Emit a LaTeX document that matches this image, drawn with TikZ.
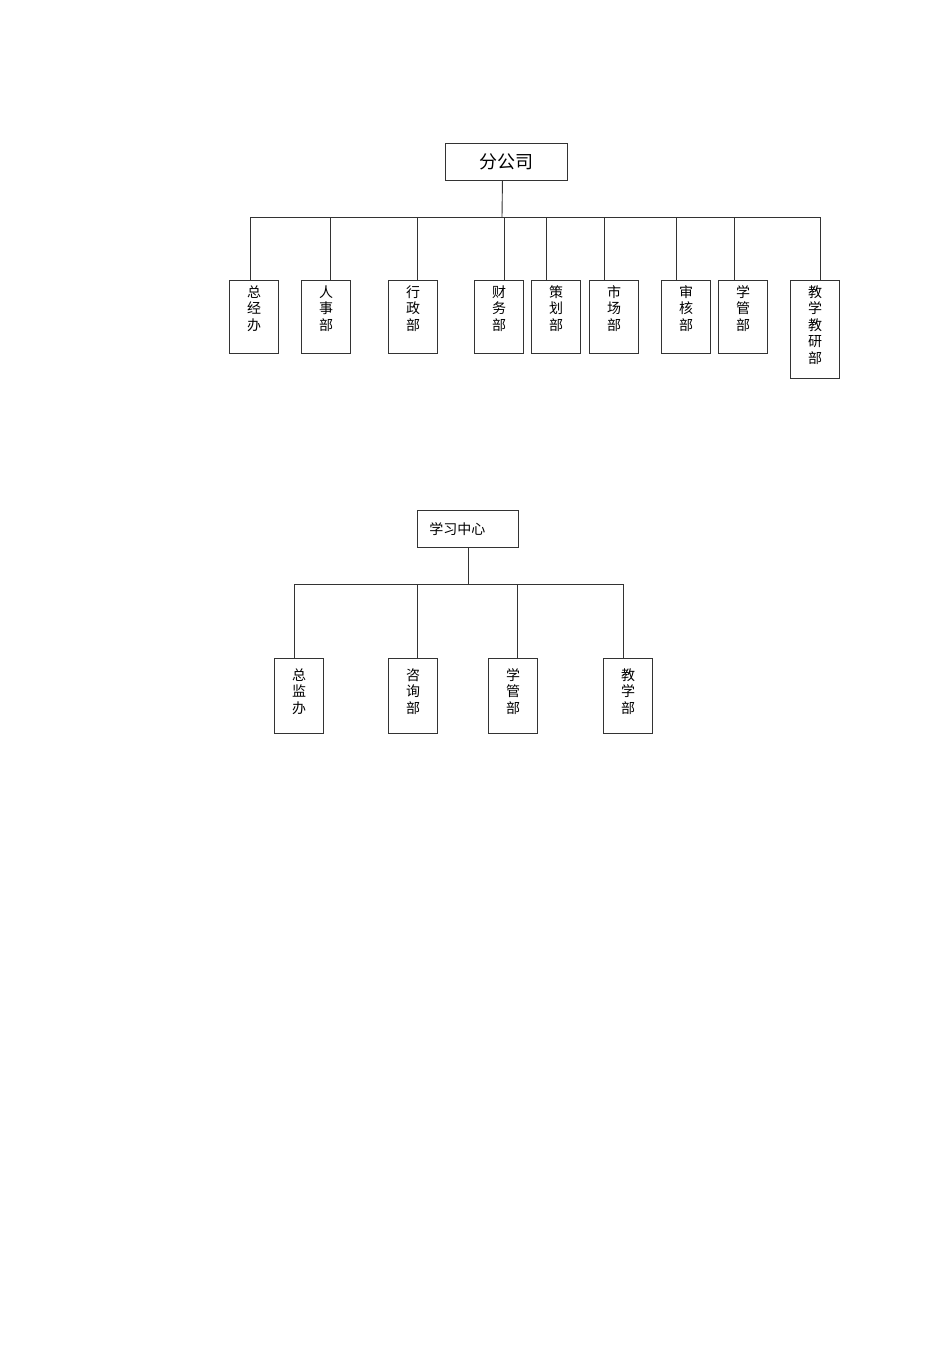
\documentclass[tikz,border=0pt]{standalone}
\usepackage{fontspec}
\newfontfamily\cjk{Noto Sans CJK SC}
\usetikzlibrary{positioning}

\tikzset{
  link/.style={black!80, line width=0.9pt},
  head/.style={draw=black!80, line width=0.9pt, anchor=north west, inner sep=0pt, minimum height=37pt},
  dept/.style={draw=black!80, line width=0.9pt, anchor=north, inner sep=0pt, font=\cjk\fontsize{14}{16.5}\selectfont}
}
% 竖排文字
\newcommand{\vtext}[3][17pt]{\parbox[t][#2][t]{49pt}{\centering\rule{0pt}{#1}#3}}

\begin{document}
\begin{tikzpicture}[x=1pt,y=-1pt]
    \useasboundingbox (0,0) rectangle (950,1345);

    % 分公司
    \node[head, minimum width=122pt, font=\cjk\fontsize{18}{20}\selectfont] (fgs) at (445,143) {分公司};
    \coordinate (busA) at (250,217);
    \coordinate (busB) at (820,217);
    \draw[link] (fgs.south) ++(-4,0) -- (502,217);
    \draw[link] (busA) -- (busB);

    % 部门
    \foreach \n/\bx/\sx/\h/\t in {zjb/254/250/73/{总\\经\\办}, rsb/326/330/73/{人\\事\\部},
        xzb/413/417/73/{行\\政\\部}, cwb/499/504/73/{财\\务\\部}, chb/556/546/73/{策\\划\\部},
        scb/614/604/73/{市\\场\\部}, shb/686/676/73/{审\\核\\部}, xgb/743/734/73/{学\\管\\部},
        jyb/815/820/98/{教\\学\\教\\研\\部}} {
        \node[dept] (\n) at (\bx,280) {\vtext{\h pt}{\t}};
        \draw[link] (\n.north) ++(\sx-\bx,0) -- (\sx,217);
    }

    % 学习中心
    \node[head, text width=77pt, inner xsep=12pt, align=left, font=\cjk\fontsize{14}{16}\selectfont] (xxzx) at (417,510) {学习中心};
    \coordinate (busC) at (294,584);
    \coordinate (busD) at (623,584);
    \draw[link] (xxzx.south) -- (xxzx.south |- busC);
    \draw[link] (busC) -- (busD);

    \foreach \n/\bx/\sx/\t in {zjbx/299/294/{总\\监\\办}, zxb/413/417/{咨\\询\\部},
        xgbx/513/517/{学\\管\\部}, jxb/628/623/{教\\学\\部}} {
        \node[dept] (\n) at (\bx,658) {\vtext[22pt]{75pt}{\t}};
        \draw[link] (\n.north) ++(\sx-\bx,0) -- (\sx,584);
    }

\end{tikzpicture}
\end{document}
